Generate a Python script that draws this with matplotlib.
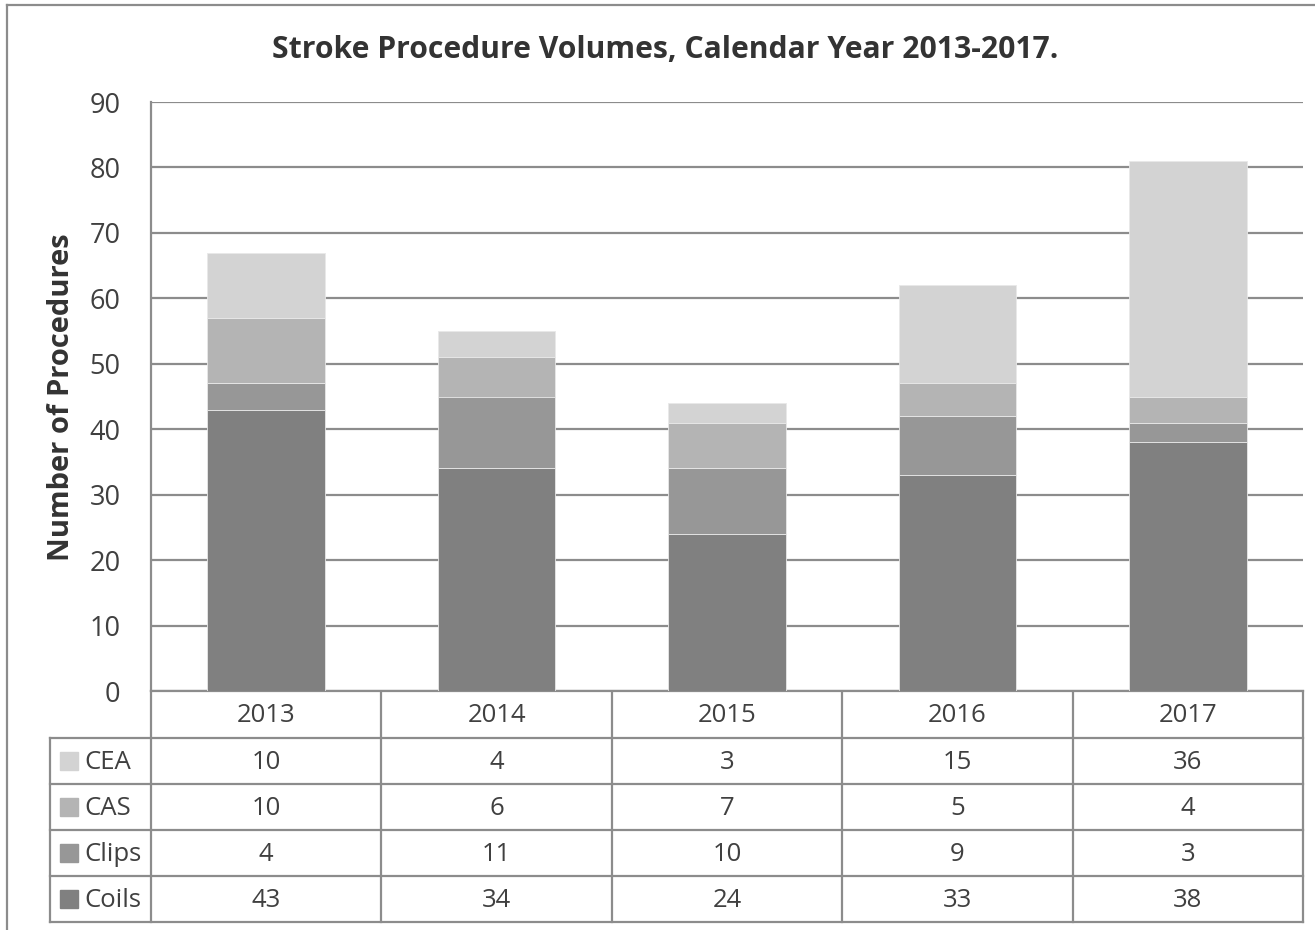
import numpy as np
import matplotlib
matplotlib.use("Agg")
import matplotlib.pyplot as plt

# data
years = ["2013", "2014", "2015", "2016", "2017"]
coils = [43, 34, 24, 33, 38]
clips = [4, 11, 10, 9, 3]
cas = [10, 6, 7, 5, 4]
cea = [10, 4, 3, 15, 36]

series_names = ["Coils", "Clips", "CAS", "CEA"]
series_vals = [coils, clips, cas, cea]
series_colors = ["#808080", "#979797", "#b4b4b4", "#d3d3d3"]

W, H = 1315, 930
line_col = "#8c8c8c"
text_col = "#404040"
plt.rcParams["font.family"] = ["Open Sans", "DejaVu Sans"]

fig = plt.figure(figsize=(W / 100, H / 100), dpi=100)

# plot area in pixels
x0, x1 = 151, 1303
y_top, y_bot = 102, 691
ax = fig.add_axes([x0 / W, (H - y_bot) / H, (x1 - x0) / W, (y_bot - y_top) / H])

x = np.arange(len(years))
bottom = np.zeros(len(years))
for name, vals, col in zip(series_names, series_vals, series_colors):
    ax.bar(x, vals, width=0.51, bottom=bottom, color=col,
           edgecolor="#e8e8e8", linewidth=0.6, zorder=3)
    bottom += np.array(vals)

ax.set_xlim(-0.5, len(years) - 0.5)
ax.set_ylim(0, 90)
ax.set_yticks(range(0, 91, 10))
ax.set_xticks([])
ax.tick_params(axis="y", length=0, pad=22, labelsize=19.5, labelcolor=text_col)
ax.yaxis.grid(True, color=line_col, linewidth=1.6, zorder=0)
for s in ["top", "right"]:
    ax.spines[s].set_visible(False)
ax.spines["left"].set_color(line_col)
ax.spines["left"].set_linewidth(1.6)
ax.spines["bottom"].set_color(line_col)
ax.spines["bottom"].set_linewidth(1.6)

fig.text(62 / W, 1 - 397 / H, "Number of Procedures", rotation=90,
         ha="center", va="center", fontsize=21, fontweight="bold", color="#333333")

# overlay in pixel coordinates for border and data table
ov = fig.add_axes([0, 0, 1, 1], zorder=-1)
ov.set_xlim(0, W)
ov.set_ylim(H, 0)
ov.axis("off")

fig.text(665 / W, 1 - 50 / H, "Stroke Procedure Volumes, Calendar Year 2013-2017.",
         ha="center", va="center", fontsize=21.7, fontweight="bold", color="#333333")

# outer chart border (cropped on right and bottom)
ov.plot([7, W], [5, 5], color=line_col, lw=1.6)
ov.plot([7, 7], [5, H], color=line_col, lw=1.6)

# data table
col_edges = np.linspace(x0, x1, len(years) + 1)
head_top, head_bot = y_bot, 738
row_h = 46
lab_x0 = 50
rows = ["CEA", "CAS", "Clips", "Coils"]
row_vals = [cea, cas, clips, coils]
row_cols = ["#d3d3d3", "#b4b4b4", "#979797", "#808080"]
n_rows = len(rows)
tab_bot = head_bot + n_rows * row_h

for cx in col_edges:
    ov.plot([cx, cx], [head_top, tab_bot], color=line_col, lw=1.6)
ov.plot([lab_x0, lab_x0], [head_bot, tab_bot], color=line_col, lw=1.6)
for i in range(n_rows + 1):
    yy = head_bot + i * row_h
    ov.plot([lab_x0, x1], [yy, yy], color=line_col, lw=1.6)

fs_tab = 18.5
for j, yr in enumerate(years):
    cxm = (col_edges[j] + col_edges[j + 1]) / 2
    ov.text(cxm, (head_top + head_bot) / 2 + 1, yr, ha="center", va="center",
            fontsize=fs_tab, color=text_col)

for i, (name, vals, col) in enumerate(zip(rows, row_vals, row_cols)):
    yc = head_bot + i * row_h + row_h / 2
    ov.add_patch(plt.Rectangle((60, yc - 9), 18, 18, color=col))
    ov.text(84, yc + 1, name, ha="left", va="center", fontsize=fs_tab, color=text_col)
    for j, v in enumerate(vals):
        cxm = (col_edges[j] + col_edges[j + 1]) / 2
        ov.text(cxm, yc + 1, str(v), ha="center", va="center",
                fontsize=fs_tab, color=text_col)

fig.savefig("out.png", dpi=100)
